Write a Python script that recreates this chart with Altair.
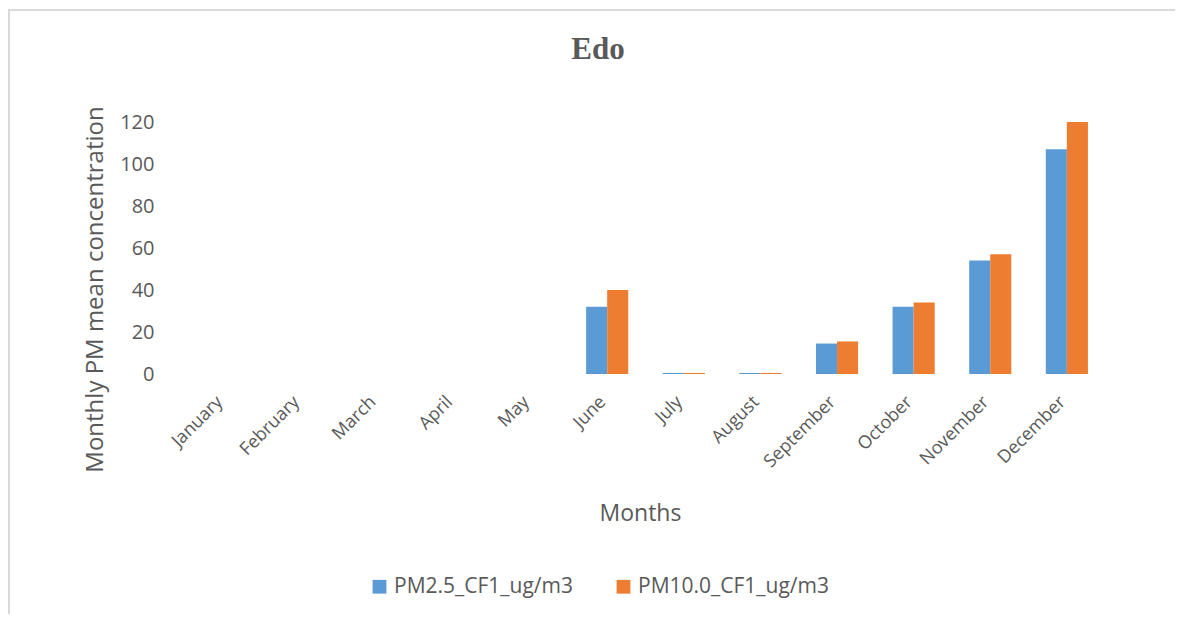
import altair as alt
import pandas as pd

months = ["January", "February", "March", "April", "May", "June", "July",
          "August", "September", "October", "November", "December"]
pm25 = [0, 0, 0, 0, 0, 32, 0.5, 0.5, 14.5, 32, 54, 107]
pm10 = [0, 0, 0, 0, 0, 40, 0.5, 0.5, 15.5, 34, 57, 120]
series = ["PM2.5_CF1_ug/m3", "PM10.0_CF1_ug/m3"]
colors = ["#5B9BD5", "#ED7D31"]
chart_title = ["Edo"]

rows = []
for i, m in enumerate(months):
    rows.append({"Month": m, "Series": series[0], "Value": pm25[i]})
    rows.append({"Month": m, "Series": series[1], "Value": pm10[i]})
df = pd.DataFrame(rows)

font = "Open Sans"
grey = "#595959"

bars = alt.Chart(df).mark_bar().encode(
    x=alt.X("Month:N", sort=months,
            scale=alt.Scale(paddingInner=0.45, paddingOuter=0.275),
            axis=alt.Axis(title="Months", labelAngle=-45, labelAlign="right",
                          labelBaseline="middle", labelOffset=-4,
                          labelPadding=25, labelFontSize=18, labelColor=grey,
                          labelFont=font, domain=False, ticks=False,
                          titleFont=font, titleFontSize=23, titleFontWeight="normal",
                          titleColor=grey, titlePadding=32, titleX=458)),
    xOffset=alt.XOffset("Series:N", sort=series),
    y=alt.Y("Value:Q", scale=alt.Scale(domain=[0, 120], nice=False),
            axis=alt.Axis(title="Monthly PM mean concentration", values=[0, 20, 40, 60, 80, 100, 120],
                          grid=False, domain=False, ticks=False,
                          labelFontSize=20, labelColor=grey, labelFont=font, labelPadding=28,
                          titleFont=font, titleFontSize=24, titleFontWeight="normal",
                          titleColor=grey, titlePadding=12, titleY=167)),
    color=alt.Color("Series:N", sort=series,
                    scale=alt.Scale(domain=series, range=colors),
                    legend=alt.Legend(title=None, orient="none", direction="horizontal",
                                      legendX=187, legendY=454,
                                      symbolType="square", symbolSize=190,
                                      symbolStrokeWidth=0, labelFontSize=21,
                                      labelFont=font, labelColor=grey,
                                      columnPadding=40, labelLimit=400)),
)

frame_top = alt.Chart(df).mark_rule(color="#d9d9d9", strokeWidth=2).encode(
    x=alt.value(-173), x2=alt.value(1100), y=alt.value(-112)
)
frame_left = alt.Chart(df).mark_rule(color="#d9d9d9", strokeWidth=2).encode(
    x=alt.value(-173), y=alt.value(-113), y2=alt.value(600)
)

title = alt.Chart(pd.DataFrame({"t": chart_title})).mark_text(
    font="Liberation Serif", fontSize=31, fontWeight="bold", color=grey,
    align="center", baseline="middle"
).encode(text="t:N", x=alt.value(416), y=alt.value(-72))

chart = alt.layer(frame_top, frame_left, title, bars).properties(
    width=927,
    height=252,
    autosize=alt.AutoSizeParams(type="none"),
    padding={"left": 174, "top": 114, "right": 66, "bottom": 240},
).configure_view(stroke=None)

chart.save("out.html", embed_options={"renderer": "svg", "actions": False})
